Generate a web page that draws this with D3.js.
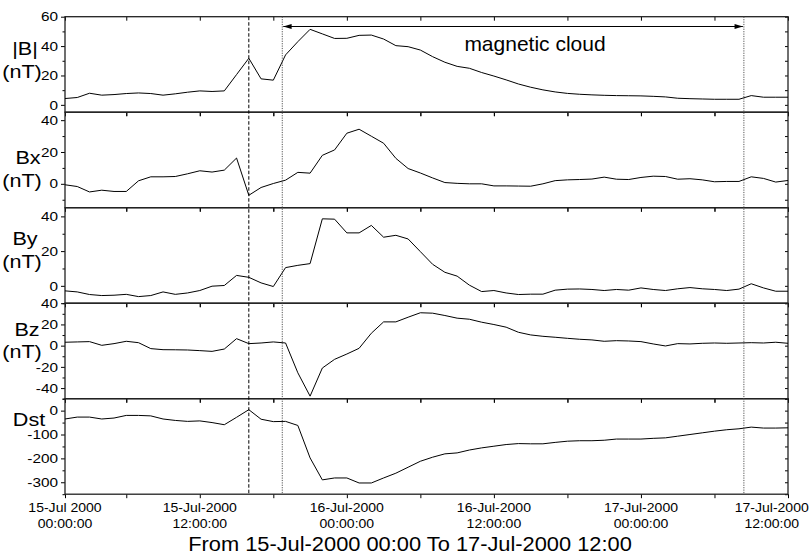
<!DOCTYPE html>
<html><head><meta charset="utf-8">
<script src="https://cdn.jsdelivr.net/npm/d3@7"></script>
<style>
body{margin:0;background:#fff}
svg{display:block}
text{font-family:"Liberation Sans",Arial,sans-serif;fill:#000}
</style>
</head><body>
<svg id="c" width="812" height="554"></svg>
<script>
// ---- data (hourly values, hour index as on the time axis) ----
const hours = d3.range(1, 61);
const Bmag = [4.3,5,7.9,6.6,7,7.7,8.1,7.7,6.6,7.5, 8.6,9.5,9.1,9.5,20.6,31.7,17.7,16.8,34,43,
  51.4,48.3,45.2,45.3,47.3,47.5,44.8,40.3,39.6,37.3, 32.8,29,26.2,24.9,22,19.6,17,14.2,12,10.2,
  8.8,7.8,7.2,6.8,6.5,6.3,6.2,6.1,5.8,5.4, 4.5,4.2,4,3.8,3.8,3.8,6.3,5.2,5.2,5.2];
const Bx = [-0.6,-1.7,-5.1,-4,-4.8,-4.8,1.9,4.4,4.4,4.6, 6.3,8.2,7.4,8.6,16.2,-7.2,-2.3,0.2,2.3,7.2,
  6.7,17.9,21.3,31.8,34.3,29.9,25.5,16,9.6,6.8, 3.7,0.8,0.3,0,0,-1.3,-1.3,-1.4,-1.5,0,
  2,2.5,2.7,3,4.2,2.9,2.7,4,4.8,4.6, 2.9,3.2,2.5,1.3,1.5,1.5,4.4,3.4,1.1,2.1];
const By = [-2.9,-3.5,-5,-5.6,-5.4,-4.9,-6.2,-5.6,-3.5,-4.9, -4.1,-2.7,-0.2,0.2,6,4.9,1.7,-0.4,10.5,11.8,
  12.8,38.6,38.4,30.5,30.5,34.8,28,29.1,27,19.7, 12.4,7.8,5.6,0.4,-3.3,-2.7,-4.1,-5,-4.8,-4.8,
  -2.5,-1.9,-1.8,-2.1,-2.7,-2.1,-2.5,-1.2,-2.1,-2.7, -1.7,-1,-1.7,-2.1,-2.7,-1.9,1.2,-1.2,-3.1,-3.1];
const Bz = [3.2,3.5,3.8,0.3,1.9,4.1,2.8,-2.8,-3.8,-3.9, -4.1,-4.7,-5.4,-3.2,6.6,1.9,2.5,3.5,2.5,-25.6,
  -47.6,-21.1,-12.9,-7.9,-2.5,11.7,22.4,22.4,26.8,31, 30.6,28.4,25.9,24.9,22.1,19.9,17.4,12.6,10.1,8.8,
  7.9,6.9,6,5.4,4.1,4.7,4.4,3.8,1.6,-0.3, 1.9,1.6,2.2,2.5,2.2,2.5,2.8,2.5,3.2,2.2];
const Dst = [-35,-27,-27,-35,-31,-20,-20,-22,-35,-41, -45,-43,-50,-59,-28,4,-36,-46,-45,-62,
  -198,-290,-282,-282,-303,-303,-282,-262,-237,-212, -195,-181,-177,-165,-156,-149,-142,-138,-139,-139,
  -133,-128,-126,-126,-124,-119,-119,-119,-116,-114, -107,-100,-93,-86,-80,-76,-69,-73,-73,-72];

const panelSeries = [Bmag, Bx, By, Bz, Dst];
const panelLabels = [["|B|","(nT)"],["Bx","(nT)"],["By","(nT)"],["Bz","(nT)"],["Dst"]];
const yDomains = [[-5,60],[-15,45],[-10,45],[-50,40],[-350,50]];
const yMajor = [[0,20,40,60],[0,20,40],[0,20,40],[-40,-20,0,20,40],[-300,-200,-100,0]];
const yMinorStep = [10,10,10,10,50];
const xDomain = [1, 60];
const xTickHours = [1,12,24,36,48,60];
const xMinorHours = [6,18,30,42,54];
const xTickLabels = [["15-Jul 2000","00:00:00"],["15-Jul-2000","12:00:00"],["16-Jul-2000","00:00:00"],
  ["16-Jul-2000","12:00:00"],["17-Jul-2000","00:00:00"],["17-Jul-2000","12:00:00"]];
const shockHour = 16;
const cloudHours = [18.73, 56.4];
const annotation = "magnetic cloud";
const title = "From 15-Jul-2000 00:00 To 17-Jul-2000 12:00";

// ---- layout ----
const L = 65, R = 788, T = 16.7, PH = 95.5, NP = 5;
const labelPos = [[[25,55],[22,78]],[[28,164],[22,187]],[[25,245],[22,268]],[[27,336],[22,358]],[[29,426]]];
const svg = d3.select("#c");
const x = d3.scaleLinear().domain(xDomain).range([L, R]);
const fmt = d => String(d);

function stretchText(sel, sx){
  sel.each(function(){
    const t = d3.select(this);
    const tx = +t.attr("x") || 0;
    t.attr("x", tx / sx).attr("transform", `scale(${sx},1)`);
  });
}

panelSeries.forEach((vals, i) => {
  const top = T + i*PH, bot = top + PH;
  const y = d3.scaleLinear().domain(yDomains[i]).range([bot, top]);
  const g = svg.append("g");
  const [d0, d1] = yDomains[i];
  const minors = d3.range(Math.ceil(d0/yMinorStep[i])*yMinorStep[i], d1 + 1e-9, yMinorStep[i])
    .filter(v => !yMajor[i].includes(v));

  // left axis (outward ticks)
  const la = g.append("g").attr("transform", `translate(${L},0)`)
    .call(d3.axisLeft(y).tickValues(yMajor[i]).tickSize(4).tickPadding(3).tickFormat(fmt));
  la.select(".domain").remove();
  la.selectAll("text").attr("font-size", 13).attr("font-family", "Liberation Sans, Arial, sans-serif");
  stretchText(la.selectAll("text"), 1.18);
  const lm = g.append("g").attr("transform", `translate(${L},0)`)
    .call(d3.axisLeft(y).tickValues(minors).tickSize(2.5).tickFormat(""));
  lm.select(".domain").remove();

  // right axis (inward ticks)
  const ra = g.append("g").attr("transform", `translate(${R},0)`)
    .call(d3.axisRight(y).tickValues(yMajor[i].concat(minors)).tickSize(-3).tickFormat(""));
  ra.select(".domain").remove();

  // top axis (inward ticks)
  const ta = g.append("g").attr("transform", `translate(0,${top})`)
    .call(d3.axisTop(x).tickValues(xTickHours.concat(xMinorHours)).tickSize(-4).tickFormat(""));
  ta.select(".domain").remove();
  // bottom axis (outward ticks)
  const ba = g.append("g").attr("transform", `translate(0,${bot})`)
    .call(d3.axisBottom(x).tickValues(xTickHours.concat(xMinorHours)).tickSize(4).tickFormat(""));
  ba.select(".domain").remove();

  g.selectAll(".tick line").attr("stroke", "#000").attr("stroke-width", 1);

  // frame
  g.append("rect").attr("x", L).attr("y", top).attr("width", R - L).attr("height", PH)
    .attr("fill", "none").attr("stroke", "#222").attr("stroke-width", 1.3);

  // data line
  const line = d3.line().x((d, k) => x(hours[k])).y(d => y(d));
  g.append("path").datum(vals).attr("d", line)
    .attr("fill", "none").attr("stroke", "#000").attr("stroke-width", 1).attr("stroke-linejoin", "round");

  // panel label
  panelLabels[i].forEach((s, k) => {
    const p = labelPos[i][k];
    svg.append("text").attr("transform", `translate(${p[0]},${p[1]}) scale(1.2,1)`)
      .attr("text-anchor", "middle").attr("font-size", 18).text(s);
  });
});

const yTop = T, yBot = T + NP*PH;

// event lines
svg.append("line").attr("x1", x(shockHour)).attr("x2", x(shockHour)).attr("y1", yTop).attr("y2", yBot)
  .attr("stroke", "#000").attr("stroke-width", 1).attr("stroke-dasharray", "3.5,2");
cloudHours.forEach(h => {
  svg.append("line").attr("x1", x(h)).attr("x2", x(h)).attr("y1", yTop).attr("y2", yBot)
    .attr("stroke", "#555").attr("stroke-width", 1).attr("stroke-dasharray", "1.2,1.2");
});

// annotation arrow
const defs = svg.append("defs");
defs.append("marker").attr("id", "ah").attr("viewBox", "0 0 10 6").attr("refX", 10).attr("refY", 3)
  .attr("markerWidth", 10).attr("markerHeight", 5).attr("markerUnits", "userSpaceOnUse")
  .attr("orient", "auto-start-reverse")
  .append("path").attr("d", "M0,0 L10,3 L0,6 Z").attr("fill", "#000");
svg.append("line").attr("x1", x(cloudHours[0]) + 1).attr("x2", x(cloudHours[1]) - 1)
  .attr("y1", 26.5).attr("y2", 26.5).attr("stroke", "#000").attr("stroke-width", 1)
  .attr("marker-start", "url(#ah)").attr("marker-end", "url(#ah)");
svg.append("text").attr("x", 535).attr("y", 51).attr("text-anchor", "middle")
  .attr("font-size", 21).text(annotation);

// bottom tick labels
xTickHours.forEach((h, k) => {
  let cx = x(h);
  const t = svg.append("text").attr("text-anchor", "middle").attr("font-size", 12);
  t.append("tspan").attr("x", 0).attr("y", 0).text(xTickLabels[k][0]);
  t.append("tspan").attr("x", 0).attr("y", 16).text(xTickLabels[k][1]);
  const sx = 1.17;
  const w = t.node().getBBox().width * sx;
  cx = Math.min(cx, 809 - w/2);
  t.attr("transform", `translate(${cx},512) scale(${sx},1)`);
});

// title
svg.append("text").attr("transform", "translate(410,551) scale(1.12,1)").attr("text-anchor", "middle")
  .attr("font-size", 19.5).text(title);
</script>
</body></html>
